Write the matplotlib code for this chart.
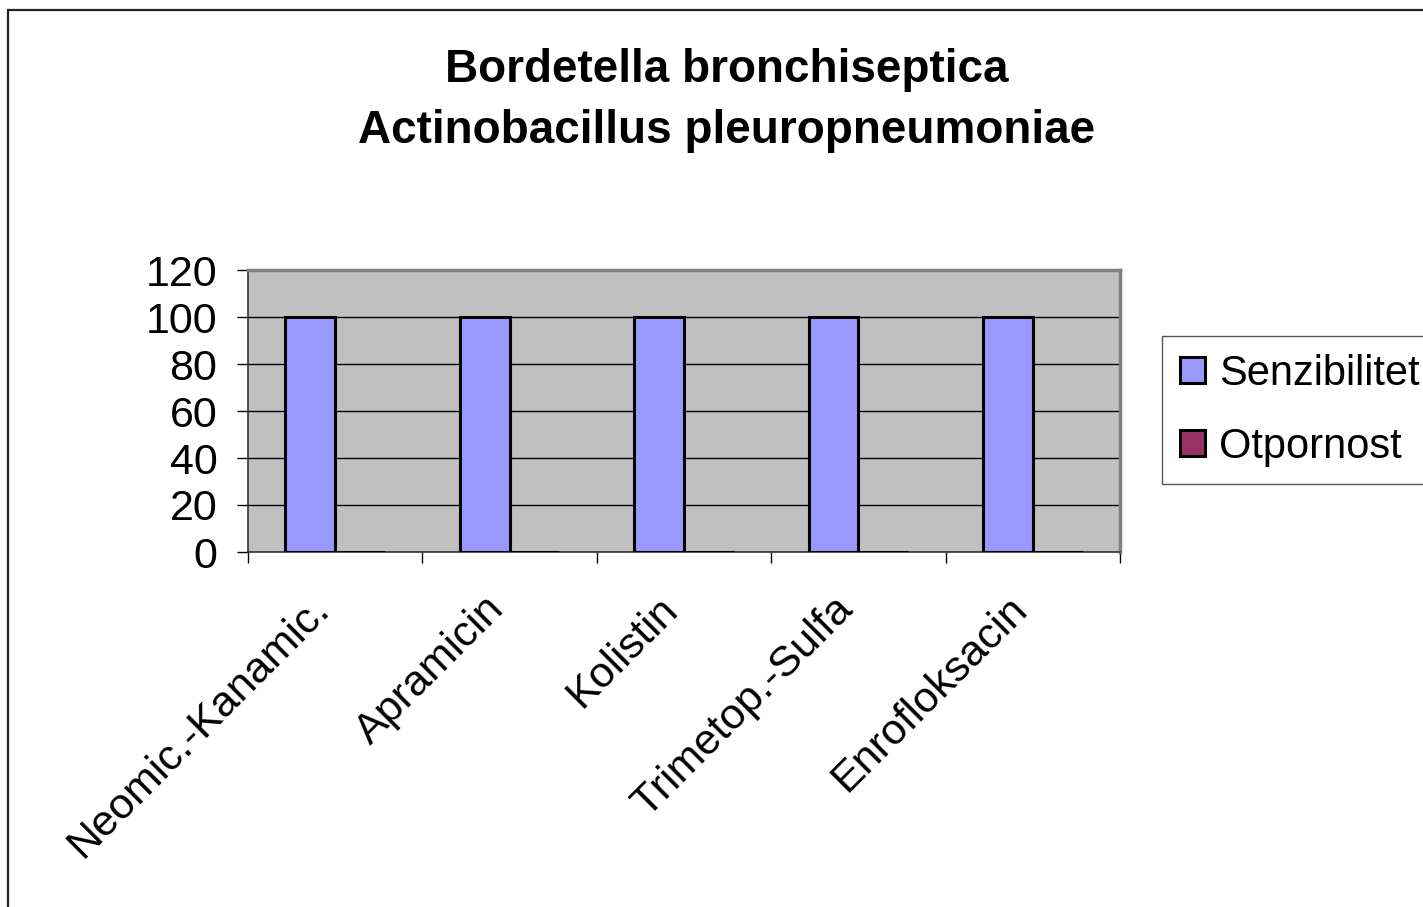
import numpy as np
import matplotlib
matplotlib.use("Agg")
import matplotlib.pyplot as plt
from matplotlib.patches import Rectangle
from matplotlib.transforms import blended_transform_factory, offset_copy

plt.rcParams['font.family'] = ['Liberation Sans', 'DejaVu Sans']

# podaci
lijekovi = ["Neomic.-Kanamic.", "Apramicin", "Kolistin", "Trimetop.-Sulfa", "Enrofloksacin"]
senzibilitet = [100, 100, 100, 100, 100]
otpornost = [0, 0, 0, 0, 0]
y_ticks = [0, 20, 40, 60, 80, 100, 120]

fig = plt.figure(figsize=(14.23, 9.07), dpi=100)

# okvir grafikona (Excel stil)
fig.patches.append(Rectangle((8 / 1423, -0.2), 1.2, 1.2 - 10 / 907,
                             transform=fig.transFigure, fill=False,
                             edgecolor="#222222", linewidth=1.6))

ax = fig.add_axes([248 / 1423, 1 - 552 / 907, (1120 - 248) / 1423, (552 - 270) / 907])
ax.set_facecolor("#C0C0C0")

x = np.arange(len(lijekovi))
w = 1 / 3.5
ax.bar(x - w / 2, senzibilitet, w, color="#9999FF", edgecolor="black",
       linewidth=2.2, label="Senzibilitet", zorder=3)
ax.bar(x + w / 2, otpornost, w, color="#993366", edgecolor="black",
       linewidth=2.2, label="Otpornost", zorder=3)

ax.set_xlim(-0.5, len(lijekovi) - 0.5)
ax.set_ylim(0, 120)
ax.set_yticks(y_ticks)
ax.yaxis.grid(True, color="black", linewidth=1, zorder=1)
ax.set_axisbelow(True)

ax.tick_params(axis="y", labelsize=31, length=8, width=1, pad=14)

# kategorije - tekst pod kutem od 45
ax.set_xticks(np.arange(len(lijekovi) + 1) - 0.5)
ax.set_xticklabels([])
ax.tick_params(axis="x", length=8, width=1)
trans = blended_transform_factory(ax.transData, ax.transAxes)
trans = offset_copy(trans, fig=fig, x=-12 / 100, y=-51 / 100, units="inches")
for i, lijek in enumerate(lijekovi):
    ax.text(x[i], 0, lijek, transform=trans, fontsize=31, rotation=45,
            rotation_mode="anchor", ha="right", va="center")

for s in ["top", "right"]:
    ax.spines[s].set_color("#808080")
    ax.spines[s].set_linewidth(2.5)
for s in ["left", "bottom"]:
    ax.spines[s].set_color("#333333")
    ax.spines[s].set_linewidth(1.2)

fig.text(727 / 1423, 1 - 70 / 907, "Bordetella bronchiseptica", fontsize=33,
         fontweight="bold", ha="center", va="center")
fig.text(727 / 1423, 1 - 131 / 907, "Actinobacillus pleuropneumoniae", fontsize=33,
         fontweight="bold", ha="center", va="center")

leg = ax.legend(loc="upper left", bbox_to_anchor=(1162 / 1423, 1 - 336 / 907),
                bbox_transform=fig.transFigure, fontsize=30, frameon=True,
                fancybox=False, edgecolor="#555555", framealpha=1,
                handlelength=0.6, handleheight=0.6, handletextpad=0.35,
                labelspacing=0.8, borderpad=0.42, borderaxespad=0)
leg.get_frame().set_linewidth(1)

fig.savefig("out.png", dpi=100)
